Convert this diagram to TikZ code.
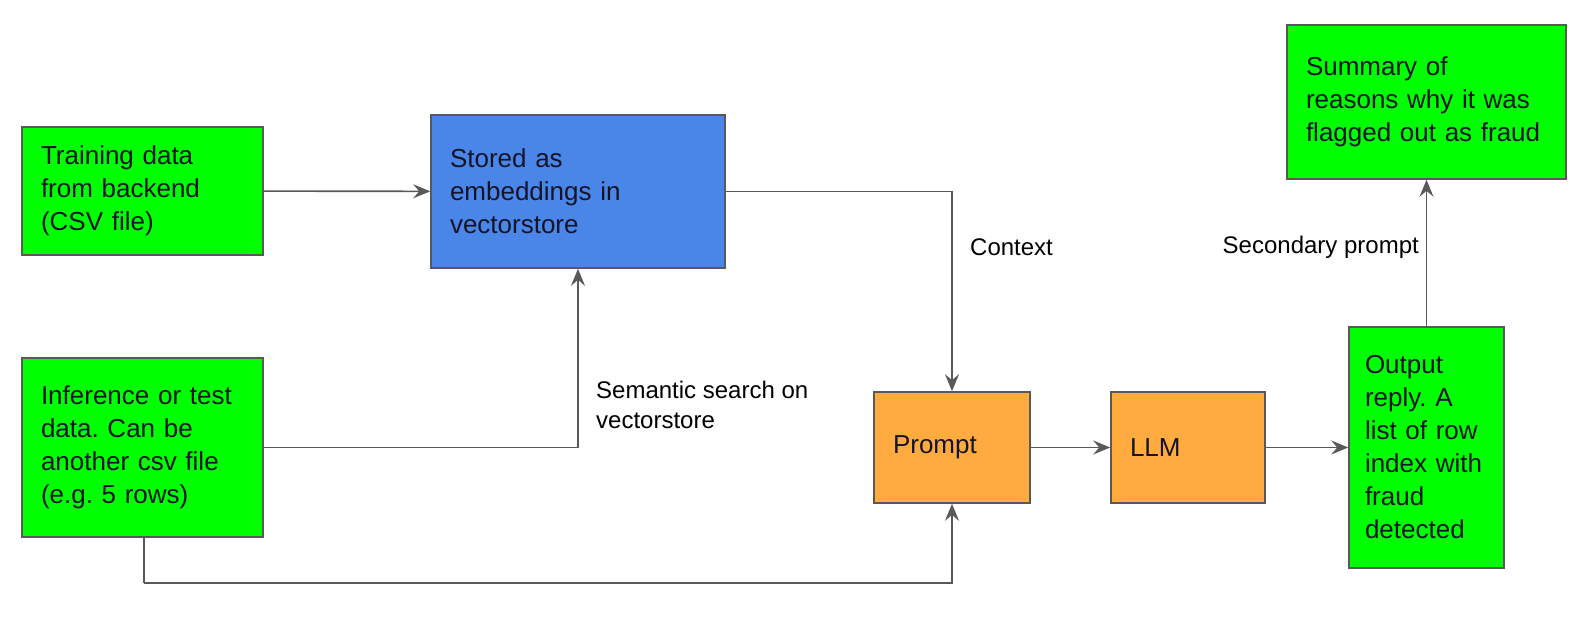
\documentclass[tikz,border=0pt]{standalone}
\usepackage{fontspec}
\setmainfont{Liberation Sans}
\frenchspacing
\usetikzlibrary{arrows.meta}
\definecolor{boxgreen}{HTML}{00FF00}
\definecolor{boxblue}{HTML}{4A86E8}
\definecolor{boxorange}{HTML}{FFAB40}
\definecolor{edgegray}{HTML}{595959}
\definecolor{textnavy}{HTML}{141428}
\begin{document}
\begin{tikzpicture}[x=1pt,y=-1pt,
  block/.style={draw=edgegray,line width=1.6pt,text=textnavy,align=left,
    inner xsep=19pt,inner ysep=0pt,font=\fontsize{26}{33}\selectfont},
  greenbox/.style={block,fill=boxgreen},
  bluebox/.style={block,fill=boxblue},
  orangebox/.style={block,fill=boxorange},
  link/.style={draw=edgegray,line width=1.6pt,
    -{Stealth[length=17pt,width=14pt,inset=6pt]}},
  plain/.style={draw=edgegray,line width=1.6pt},
  tag/.style={text=black,align=left,inner sep=0pt,font=\fontsize{24}{30}\selectfont}]
\useasboundingbox (0,0) rectangle (1577,623);
\node[greenbox,text width=203pt,minimum height=128pt] (train) at (142.5,191) {Training data\\from backend\\(CSV file)};
\node[bluebox,text width=256pt,minimum height=153pt] (store) at (578,191.5) {Stored as\\embeddings in\\vectorstore};
\node[greenbox,text width=203pt,minimum height=179pt] (infer) at (142.5,447.5) {Inference or test\\data. Can be\\another csv file\\(e.g. 5 rows)};
\node[orangebox,text width=118pt,minimum height=111pt] (prompt) at (952,447.5) {Prompt};
\node[orangebox,text width=116pt,minimum height=111pt] (llm) at (1188,447.5) {LLM};
\node[greenbox,inner xsep=16pt,text width=123pt,minimum height=241pt] (output) at (1426.5,447.5) {Output\\reply. A\\list of row\\index with\\fraud\\detected};
\node[greenbox,text width=241pt,minimum height=154pt] (summary) at (1426.5,102) {Summary of\\reasons why it was\\flagged out as fraud};
\coordinate (bend) at (144,583);
\node[tag,anchor=west] (ctx) at (970,247) {Context};
\node[tag,anchor=west] (sem) at (596,405) {Semantic search on\\vectorstore};
\node[tag,anchor=east] (sec) at (1419,247) {Secondary prompt};
\draw[link] (train) -- (store);
\draw[link] (store.east) -| (prompt.north);
\draw[link] (infer.east) -| (store.south);
\draw[plain] (infer.south -| bend) -- (bend);
\draw[link] (bend) -| (prompt.south);
\draw[link] (prompt) -- (llm);
\draw[link] (llm) -- (output);
\draw[link] (output) -- (summary);
\end{tikzpicture}
\end{document}
